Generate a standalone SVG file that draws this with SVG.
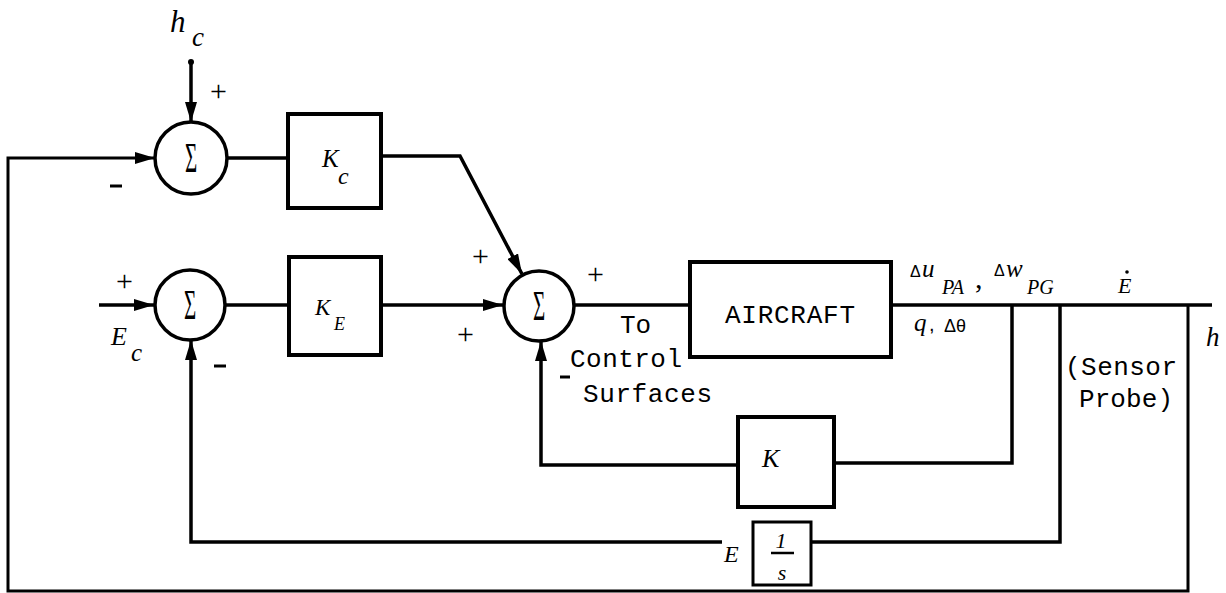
<svg xmlns="http://www.w3.org/2000/svg" width="1226" height="593" viewBox="0 0 1226 593">
<style>
.ln{fill:none;stroke:#000;stroke-width:3.5;stroke-linejoin:miter}
.bx{fill:#fff;stroke:#000;stroke-width:4}
.cr{fill:#fff;stroke:#000;stroke-width:3.5}
.m{font-family:"Liberation Serif",serif;font-style:italic;fill:#000}
.sg{font-family:"Liberation Serif",serif;font-size:42px;fill:#000;text-anchor:middle}
.t{font-family:"Liberation Mono",monospace;fill:#000;font-size:26px}
.s{font-family:"Liberation Sans",sans-serif;fill:#000}
.sig{font-family:"Liberation Serif",serif;fill:#000;font-size:30px}
.dash{stroke:#000;stroke-width:3}
</style>
<defs>
<marker id="ar" viewBox="0 0 20 12" refX="20" refY="6" markerWidth="20" markerHeight="12" markerUnits="userSpaceOnUse" orient="auto">
<path d="M0,0 L20,6 L0,12 Z" fill="#000"/>
</marker>
</defs>
<rect width="1226" height="593" fill="#fff"/>
<g id="connectors">
<circle cx="191" cy="62" r="3" fill="#000"/>
<line class="ln" x1="191" y1="62" x2="191" y2="122" marker-end="url(#ar)"/>
<line class="ln" x1="227" y1="158" x2="288" y2="158"/>
<line class="ln" x1="99" y1="305" x2="154" y2="305" marker-end="url(#ar)"/>
<line class="ln" x1="225" y1="305" x2="289" y2="305"/>
<line class="ln" x1="381" y1="305" x2="503" y2="305" marker-end="url(#ar)"/>
<polyline class="ln" points="381,156 460,156 522,274" marker-end="url(#ar)"/>
<line class="ln" x1="574" y1="305" x2="690" y2="305"/>
<line class="ln" x1="891" y1="305" x2="1212" y2="305"/>
<polyline class="ln" points="1012,305 1012,463 834,463"/>
<polyline class="ln" points="738,465 541,465 541,341" marker-end="url(#ar)"/>
<polyline class="ln" points="1060,305 1060,542 811,542"/>
<polyline class="ln" points="722,542 191,542 191,340" marker-end="url(#ar)"/>
<polyline class="ln" points="1188,305 1188,591 8,591 8,158 155,158" marker-end="url(#ar)" style="stroke-width:3"/>
</g>
<g id="sum1">
<circle class="cr" cx="191" cy="158" r="36"/>
<text class="sg" x="191" y="172" transform="translate(191 0) scale(0.5 1) translate(-191 0)">Σ</text>
</g>
<g id="sum2">
<circle class="cr" cx="190" cy="305" r="35"/>
<text class="sg" x="190" y="319" transform="translate(190 0) scale(0.5 1) translate(-190 0)">Σ</text>
</g>
<g id="sum3">
<circle class="cr" cx="539" cy="306" r="35"/>
<text class="sg" x="539" y="320" transform="translate(539 0) scale(0.5 1) translate(-539 0)">Σ</text>
</g>
<g id="Kc">
<rect class="bx" x="288" y="114" width="93" height="94"/>
<text class="m" x="322" y="167" font-size="25">K</text>
<text class="m" x="338" y="184" font-size="24">c</text>
</g>
<g id="KE">
<rect class="bx" x="289" y="257" width="92" height="98"/>
<text class="m" x="315" y="315" font-size="23">K</text>
<text class="m" x="334" y="330" font-size="18">E</text>
</g>
<g id="aircraft">
<rect class="bx" x="690" y="262" width="201" height="95"/>
<text class="t" x="725" y="323" font-size="27" textLength="130">AIRCRAFT</text>
</g>
<g id="K">
<rect class="bx" x="738" y="417" width="96" height="90"/>
<text class="m" x="762" y="467" font-size="26">K</text>
</g>
<g id="integrator">
<rect class="bx" x="753" y="522" width="58" height="63" style="stroke-width:3"/>
<text class="m" x="781" y="548" font-size="22" text-anchor="middle">1</text>
<line x1="771" y1="553" x2="794" y2="553" stroke="#000" stroke-width="2.5"/>
<text class="m" x="782" y="580" font-size="22" text-anchor="middle">s</text>
</g>
<g id="labels">
<text class="m" x="170" y="32" font-size="31">h</text>
<text class="m" x="192" y="46" font-size="27">c</text>
<text class="m" x="111" y="345" font-size="26">E</text>
<text class="m" x="131" y="361" font-size="25">c</text>
<text class="m" x="724" y="562" font-size="24">E</text>
<text class="sig" x="210" y="101">+</text>
<line class="dash" x1="110" y1="186" x2="122" y2="186"/>
<text class="sig" x="116" y="291">+</text>
<line class="dash" x1="214" y1="366" x2="226" y2="366"/>
<text class="sig" x="472" y="266">+</text>
<text class="sig" x="457" y="344">+</text>
<text class="sig" x="587" y="284">+</text>
<line class="dash" x1="560" y1="377" x2="570" y2="377"/>
<text class="t" x="620" y="333">To</text>
<text class="t" x="570" y="367" textLength="112">Control</text>
<text class="t" x="583" y="402" textLength="129">Surfaces</text>
<text class="s" x="910" y="277" font-size="16">Δ</text>
<text class="m" x="922" y="277" font-size="25">u</text>
<text class="m" x="942" y="294" font-size="20">PA</text>
<text class="sig" x="975" y="288" font-size="24">,</text>
<text class="s" x="994" y="276" font-size="16">Δ</text>
<text class="m" x="1006" y="277" font-size="25">w</text>
<text class="m" x="1027" y="294" font-size="20">PG</text>
<text class="m" x="1118" y="293" font-size="22">E</text>
<circle cx="1127" cy="272" r="1.8" fill="#000"/>
<text class="m" x="914" y="331" font-size="25">q</text>
<text class="s" x="929" y="331" font-size="20">,</text>
<text class="s" x="944" y="332" font-size="18">Δθ</text>
<text class="t" x="1065" y="375" textLength="112">(Sensor</text>
<text class="t" x="1079" y="407" textLength="94">Probe)</text>
<text class="m" x="1206" y="346" font-size="27">h</text>
</g>
</svg>
